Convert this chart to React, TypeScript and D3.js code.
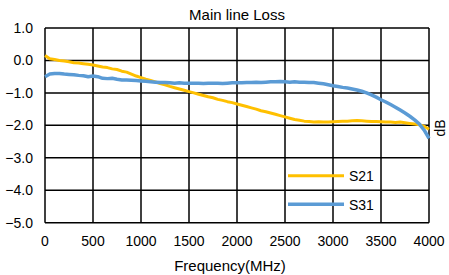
import React from "react";
import * as d3 from "d3";

const freqs: number[] = [
  0, 50, 100, 150, 200, 250, 300, 350, 400, 450, 500, 550, 600, 650, 700, 750, 800, 850, 900, 950,
  1000, 1050, 1100, 1150, 1200, 1250, 1300, 1350, 1400, 1450, 1500, 1550, 1600, 1650, 1700, 1750,
  1800, 1850, 1900, 1950, 2000, 2050, 2100, 2150, 2200, 2250, 2300, 2350, 2400, 2450, 2500, 2550,
  2600, 2650, 2700, 2750, 2800, 2850, 2900, 2950, 3000, 3050, 3100, 3150, 3200, 3250, 3300, 3350,
  3400, 3450, 3500, 3550, 3600, 3650, 3700, 3750, 3800, 3850, 3900, 3950, 4000,
];

const s21: number[] = [
  0.15, 0.05, 0.03, 0.0, -0.02, -0.04, -0.07, -0.08, -0.1, -0.12, -0.14, -0.17, -0.2, -0.22, -0.26,
  -0.28, -0.33, -0.36, -0.42, -0.48, -0.53, -0.58, -0.62, -0.66, -0.71, -0.75, -0.8, -0.84, -0.88,
  -0.92, -0.96, -1.0, -1.04, -1.08, -1.12, -1.15, -1.2, -1.23, -1.27, -1.3, -1.34, -1.38, -1.42,
  -1.46, -1.5, -1.55, -1.58, -1.62, -1.66, -1.7, -1.74, -1.78, -1.82, -1.84, -1.87, -1.88, -1.9,
  -1.89, -1.9, -1.9, -1.89, -1.88, -1.87, -1.87, -1.86, -1.85, -1.86, -1.87, -1.88, -1.88, -1.89,
  -1.9, -1.9, -1.91, -1.9, -1.92, -1.94, -1.96, -1.98, -2.03, -2.12,
];

const s31: number[] = [
  -0.5, -0.42, -0.4, -0.4, -0.42, -0.43, -0.44, -0.46, -0.47, -0.5, -0.48, -0.5, -0.55, -0.56,
  -0.55, -0.58, -0.6, -0.6, -0.61, -0.62, -0.63, -0.64, -0.66, -0.67, -0.68, -0.68, -0.69, -0.7,
  -0.69, -0.7, -0.7, -0.7, -0.7, -0.71, -0.7, -0.7, -0.7, -0.71, -0.7, -0.69, -0.69, -0.69, -0.68,
  -0.68, -0.67, -0.68, -0.67, -0.66, -0.66, -0.65, -0.66, -0.67, -0.66, -0.67, -0.67, -0.68, -0.68,
  -0.7, -0.72, -0.75, -0.78, -0.8, -0.83, -0.85, -0.88, -0.91, -0.95, -1.0, -1.06, -1.13, -1.21,
  -1.28, -1.36, -1.44, -1.53, -1.62, -1.72, -1.83, -1.96, -2.15, -2.4,
];

const xTicks: number[] = [0, 500, 1000, 1500, 2000, 2500, 3000, 3500, 4000];
const yTicks: number[] = [1, 0, -1, -2, -3, -4, -5];

const seriesNames = ["S21", "S31"];
const seriesColors = ["#FFC000", "#5B9BD5"];

const W = 449;
const H = 275;
const L = 45;
const R = 429;
const T = 28;
const B = 222.7;
const FONT = "'Liberation Sans', Arial, sans-serif";

export default function App() {
  const x = d3.scaleLinear().domain([0, 4000]).range([L, R]);
  const y = d3.scaleLinear().domain([-5, 1]).range([B, T]);
  const line = d3
    .line<number>()
    .x((_, i) => x(freqs[i]))
    .y((v) => y(v));
  const series = [s21, s31];
  const widths = [3, 3.5];

  return (
    <svg
      width={W}
      height={H}
      style={{ position: "absolute", left: 0, top: 0, background: "#fff" }}
      fontFamily={FONT}
    >
      <rect x={0} y={0} width={W} height={H} fill="#fff" />
      <text x={237} y={20} fontSize={15} textAnchor="middle" fill="#000">
        Main line Loss
      </text>
      {/* grid */}
      {yTicks.map((t) => (
        <line key={"h" + t} x1={L} x2={R} y1={y(t)} y2={y(t)} stroke="#000" strokeWidth={1.5} />
      ))}
      {xTicks.map((t) => (
        <line key={"v" + t} x1={x(t)} x2={x(t)} y1={T} y2={B} stroke="#000" strokeWidth={1.5} />
      ))}
      {/* y labels */}
      {yTicks.map((t) => (
        <text key={"yl" + t} x={33} y={y(t) + 5} fontSize={14} textAnchor="end" fill="#000">
          {d3.format(".1f")(t)}
        </text>
      ))}
      {xTicks.map((t) => (
        <text key={"xl" + t} x={x(t)} y={246} fontSize={14} textAnchor="middle" fill="#000">
          {t}
        </text>
      ))}
      <text x={230} y={271} fontSize={15} textAnchor="middle" fill="#000">
        Frequency(MHz)
      </text>
      <text
        transform={`translate(445,128) rotate(-90)`}
        fontSize={14}
        textAnchor="middle"
        fill="#000"
      >
        dB
      </text>
      {/* series */}
      {series.map((s, i) => (
        <path
          key={seriesNames[i]}
          d={line(s) || ""}
          fill="none"
          stroke={seriesColors[i]}
          strokeWidth={widths[i]}
          strokeLinejoin="round"
        />
      ))}
      {/* legend */}
      {seriesNames.map((n, i) => (
        <g key={"lg" + n}>
          <line
            x1={288}
            x2={344}
            y1={175.7 + i * 28.6}
            y2={175.7 + i * 28.6}
            stroke={seriesColors[i]}
            strokeWidth={widths[i]}
          />
          <text x={349} y={181 + i * 28.6} fontSize={14} fill="#000">
            {n}
          </text>
        </g>
      ))}
    </svg>
  );
}
